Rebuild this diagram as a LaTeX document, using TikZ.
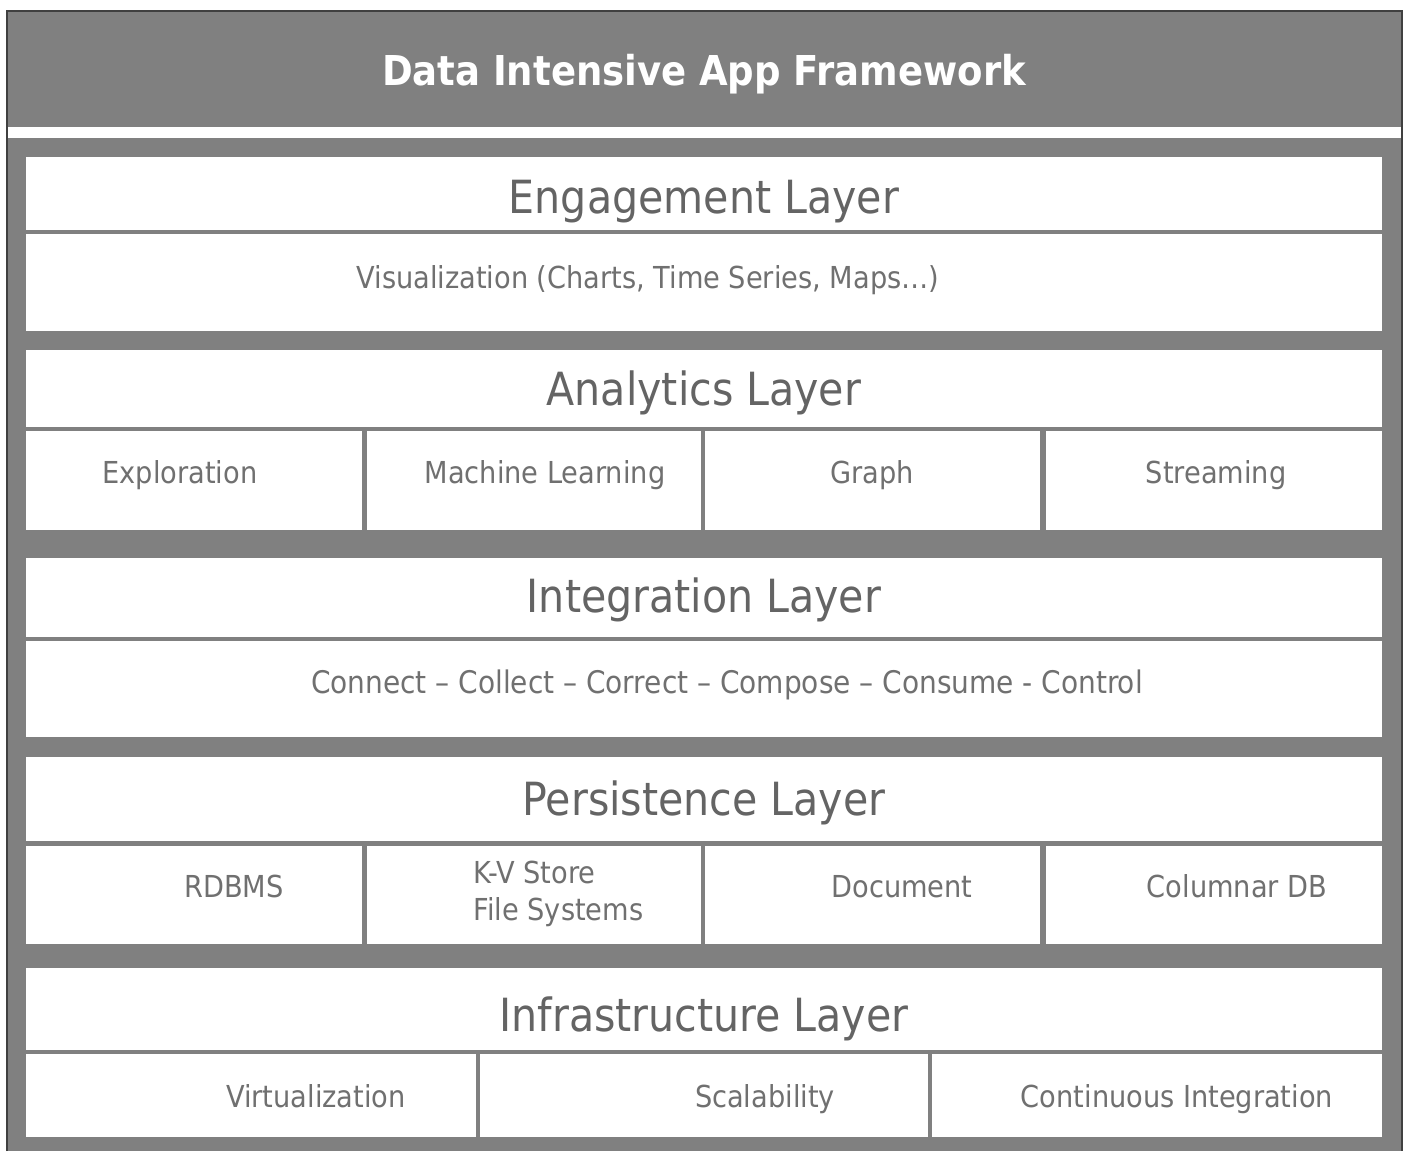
\documentclass[tikz,border=0pt]{standalone}
\usepackage{fontspec}
\setmainfont{DejaVu Sans Condensed}
\definecolor{framegray}{RGB}{128,128,128}
\definecolor{layerink}{RGB}{100,100,100}
\definecolor{itemink}{RGB}{112,112,112}

\begin{document}
\begin{tikzpicture}[x=0.01cm,y=-0.01cm,
    layer/.style={anchor=base,text=layerink,font=\fontsize{13}{15}\selectfont},
    item/.style={anchor=base,text=itemink,font=\fontsize{8.6}{10.5}\selectfont},
    cell/.style={fill=white}]
    \useasboundingbox (0,0) rectangle (1407,1151);

    % Cadre et bandeau
    \fill[framegray] (7,11) rectangle (1402,1151);
    \fill[white] (7,127) rectangle (1402,138);
    \draw[black!75,line width=0.5pt] (7,1151) -- (7,11) -- (1402,11) -- (1402,1151);
    \node[anchor=base,white,font=\bfseries\fontsize{11.7}{14}\selectfont] (title) at (704,85) {Data Intensive App Framework};

    % Engagement
    \fill[cell] (26,157) rectangle (1382,230);
    \fill[cell] (26,234) rectangle (1382,331);
    \node[layer] (engagement) at (704,213) {Engagement Layer};
    \node[item] (visu) at (648,288) {Visualization (Charts, Time Series, Maps…)};

    % Analytics
    \fill[cell] (26,350) rectangle (1382,427);
    \fill[cell] (26,431) rectangle (362,530);
    \fill[cell] (367,431) rectangle (701,530);
    \fill[cell] (705,431) rectangle (1040,530);
    \fill[cell] (1046,431) rectangle (1382,530);
    \node[layer] (analytics) at (704,405) {Analytics Layer};
    \node[item] (explo) at (180,483) {Exploration};
    \node[item] (ml) at (545,483) {Machine Learning};
    \node[item] (graph) at (872,483) {Graph};
    \node[item] (stream) at (1216,483) {Streaming};

    % Integration
    \fill[cell] (26,558) rectangle (1382,637);
    \fill[cell] (26,641) rectangle (1382,737);
    \node[layer] (integration) at (704,612) {Integration Layer};
    \node[item,font=\fontsize{8.85}{10.5}\selectfont] (ccc) at (727,693) {Connect – Collect – Correct – Compose – Consume - Control};

    % Persistence
    \fill[cell] (26,757) rectangle (1382,841);
    \fill[cell] (26,846) rectangle (362,944);
    \fill[cell] (367,846) rectangle (701,944);
    \fill[cell] (705,846) rectangle (1040,944);
    \fill[cell] (1046,846) rectangle (1382,944);
    \node[layer] (persistence) at (704,815) {Persistence Layer};
    \node[item] (rdbms) at (234,897) {RDBMS};
    \node[item,anchor=base west,inner sep=0pt] (kv) at (473,883) {K-V Store};
    \node[item,anchor=base west,inner sep=0pt] (fs) at (473,920) {File Systems};
    \node[item] (doc) at (902,897) {Document};
    \node[item] (col) at (1237,897) {Columnar DB};

    % Infrastructure
    \fill[cell] (26,968) rectangle (1382,1050);
    \fill[cell] (26,1054) rectangle (476,1137);
    \fill[cell] (480,1054) rectangle (928,1137);
    \fill[cell] (932,1054) rectangle (1382,1137);
    \node[layer] (infra) at (704,1031) {Infrastructure Layer};
    \node[item] (virt) at (316,1107) {Virtualization};
    \node[item] (scal) at (765,1107) {Scalability};
    \node[item] (ci) at (1177,1107) {Continuous Integration};
\end{tikzpicture}
\end{document}
